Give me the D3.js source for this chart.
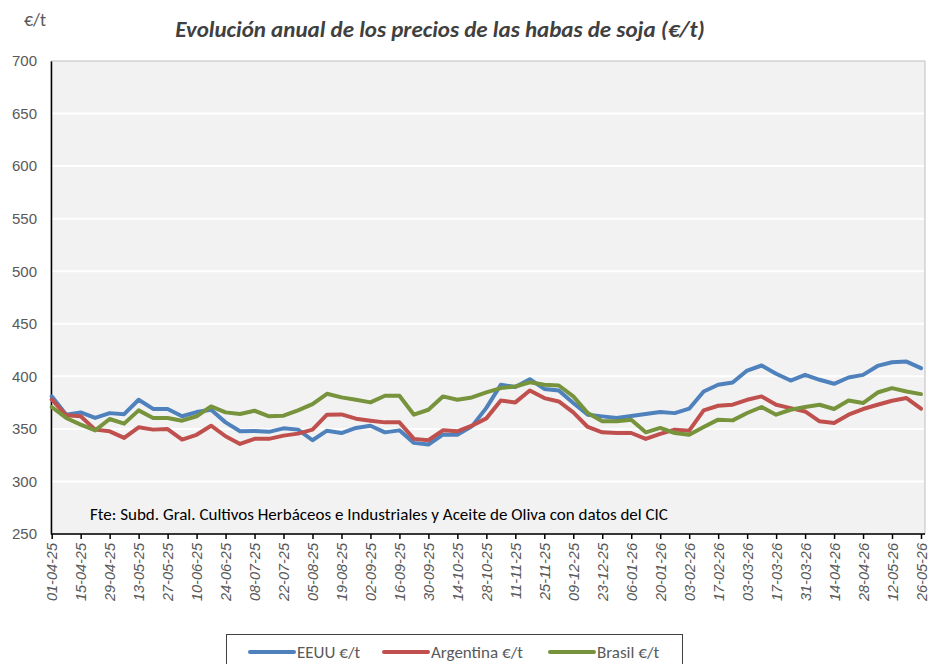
<!DOCTYPE html>
<html>
<head>
<meta charset="utf-8">
<script src="https://cdn.jsdelivr.net/npm/d3@7"></script>
<style>
  body { margin: 0; background: #fff; }
  svg { font-family: Carlito, Lato, "Noto Sans", sans-serif; }
</style>
</head>
<body>
<div id="chart-area"></div>
<script>
// fechas semanales (categorías)
const fechas = ["01-04-25","08-04-25","15-04-25","22-04-25","29-04-25","06-05-25","13-05-25","20-05-25","27-05-25","03-06-25",
  "10-06-25","17-06-25","24-06-25","01-07-25","08-07-25","15-07-25","22-07-25","29-07-25","05-08-25","12-08-25",
  "19-08-25","26-08-25","02-09-25","09-09-25","16-09-25","23-09-25","30-09-25","07-10-25","14-10-25","21-10-25",
  "28-10-25","04-11-25","11-11-25","18-11-25","25-11-25","02-12-25","09-12-25","16-12-25","23-12-25","30-12-25",
  "06-01-26","13-01-26","20-01-26","27-01-26","03-02-26","10-02-26","17-02-26","24-02-26","03-03-26","10-03-26",
  "17-03-26","24-03-26","31-03-26","07-04-26","14-04-26","21-04-26","28-04-26","05-05-26","12-05-26","19-05-26","26-05-26"]

// precios €/t
const eeuu = [381,363.5,365.7,360.4,365,364,377.7,369,369,362,
  366,368.2,356.2,347.7,348,347.2,350.5,349.3,339.2,348.3,
  346,350.9,353,346.7,348.6,336.7,335.1,344.5,344.5,352.4,
  370,392,389.8,397.3,388,386.6,374.6,363.5,361.9,360.4,
  362.3,364.2,366.1,365,369.2,385.6,392,394.1,405.5,410.3,
  402.5,396,401.4,396.7,392.9,398.9,401.4,409.9,413.4,414,407.8]

const argentina = [378,362.9,362,349.3,347.7,341.4,351.5,349.3,349.8,339.8,
  344.4,353,343,335.7,340.5,340.5,343.6,345.5,349.3,363.5,
  363.8,359.7,357.8,356.2,356.2,340.5,339.2,348.6,347.7,353,
  360,377,375.2,386.6,379.3,376.1,365.7,351.8,346.7,346.1,
  346.1,340.5,345.2,349.3,348.3,367.6,372,373,377.7,380.9,
  373,369.8,366.6,357.2,355.6,363.5,368.9,373,376.8,379.3,369.2]

const brasil = [370.8,360.4,354,348.6,359.4,355,367.6,360.4,360.4,357.8,
  362,371.4,365.7,364.2,367.3,362,362.6,367.6,373.6,383.4,
  380,377.7,375.2,381.5,381.5,363.5,368.2,380.9,377.7,379.9,
  384.8,388.8,390.3,394.4,392,391.3,380.9,365.1,357.2,357.2,
  358.8,346.7,350.9,346.1,344.5,351.8,358.8,358.1,365.1,370.8,
  363.5,368.2,370.8,373,368.9,377,374.6,384.6,388.8,385.6,383.1]

const yTicks = [250, 300, 350, 400, 450, 500, 550, 600, 650, 700]

const series = [
  { name: "EEUU €/t", values: eeuu, color: "#4f81bd" },
  { name: "Argentina €/t", values: argentina, color: "#c0504d" },
  { name: "Brasil €/t", values: brasil, color: "#77933c" }
]

const W = 931, H = 664
const margin = { left: 51, right: 6, top: 61, bottom: 130 }
const width = W - margin.left - margin.right
const height = H - margin.top - margin.bottom

const svg = d3.select("#chart-area").append("svg")
  .attr("width", W)
  .attr("height", H)

// títulos
svg.append("text")
  .attr("x", 24).attr("y", 26)
  .attr("font-size", "18px")
  .attr("fill", "#595959")
  .text("€/t")

svg.append("text")
  .attr("x", 440).attr("y", 37)
  .attr("text-anchor", "middle")
  .attr("font-size", "23px")
  .attr("font-weight", "bold")
  .attr("font-style", "italic")
  .attr("fill", "#404040")
  .text("Evolución anual de los precios de las habas de soja (€/t)")

const g = svg.append("g")
  .attr("transform", `translate(${margin.left}, ${margin.top})`)

const x = d3.scalePoint()
  .domain(fechas)
  .range([0.7, width - 4])

const y = d3.scaleLinear()
  .domain([250, 700])
  .range([height, 0])

// fondo del área de trazado
g.append("rect")
  .attr("width", width).attr("height", height)
  .attr("fill", "#f2f2f2")
  .attr("stroke", "#bfbfbf")

// líneas de cuadrícula
g.selectAll(".grid")
  .data(yTicks.slice(1, -1))
  .enter().append("line")
  .attr("x1", 1).attr("x2", width - 1)
  .attr("y1", d => y(d)).attr("y2", d => y(d))
  .attr("stroke", "#fff")
  .attr("stroke-width", 2)

// eje Y
const yAxis = g.append("g")
  .call(d3.axisLeft(y).tickValues(yTicks).tickSize(0).tickPadding(14))
yAxis.select(".domain").attr("stroke", "#000").attr("stroke-width", 1.5)
yAxis.selectAll("text").attr("font-size", "15px").attr("fill", "#595959").attr("font-family", null)

// eje X
const xAxis = g.append("g")
  .attr("transform", `translate(0, ${height})`)
  .call(d3.axisBottom(x)
    .tickValues(fechas.filter((d, i) => i % 2 === 0))
    .tickSize(5).tickSizeOuter(0))
xAxis.select(".domain").attr("stroke", "#000").attr("stroke-width", 1.5)
  .attr("d", `M0,0H${width}`)
xAxis.selectAll(".tick line").attr("stroke", "#000").attr("stroke-width", 1.5)
xAxis.selectAll("text")
  .attr("font-size", "14.5px")
  .attr("font-style", "italic")
  .attr("fill", "#595959")
  .attr("font-family", null)
  .attr("text-anchor", "end")
  .attr("transform", "rotate(-90)")
  .attr("x", -9)
  .attr("y", 0)
  .attr("dy", "0.35em")

// nota de fuente
g.append("text")
  .attr("x", 39).attr("y", height - 14)
  .attr("font-size", "17px")
  .attr("fill", "#000")
  .text("Fte: Subd. Gral. Cultivos Herbáceos e Industriales y Aceite de Oliva con datos del CIC")

// series
const line = d3.line()
  .x((d, i) => x(fechas[i]))
  .y(d => y(d))

g.selectAll(".serie")
  .data(series)
  .enter().append("path")
  .attr("class", "serie")
  .attr("d", d => line(d.values))
  .attr("fill", "none")
  .attr("stroke", d => d.color)
  .attr("stroke-width", 4)
  .attr("stroke-linejoin", "round")
  .attr("stroke-linecap", "round")

// leyenda
svg.append("rect")
  .attr("x", 226.5).attr("y", 634.5)
  .attr("width", 456).attr("height", 40)
  .attr("fill", "#fff")
  .attr("stroke", "#404040")
const posLeyenda = [250, 384, 550]
series.forEach((s, i) => {
  const item = svg.append("g").attr("transform", `translate(${posLeyenda[i]}, 652)`)
  item.append("line")
    .attr("x1", 0).attr("x2", 44)
    .attr("stroke", s.color).attr("stroke-width", 4).attr("stroke-linecap", "round")
  item.append("text")
    .attr("x", 47).attr("dy", "0.35em")
    .attr("font-size", "17px")
    .attr("fill", "#595959")
    .text(s.name)
})
</script>
</body>
</html>
